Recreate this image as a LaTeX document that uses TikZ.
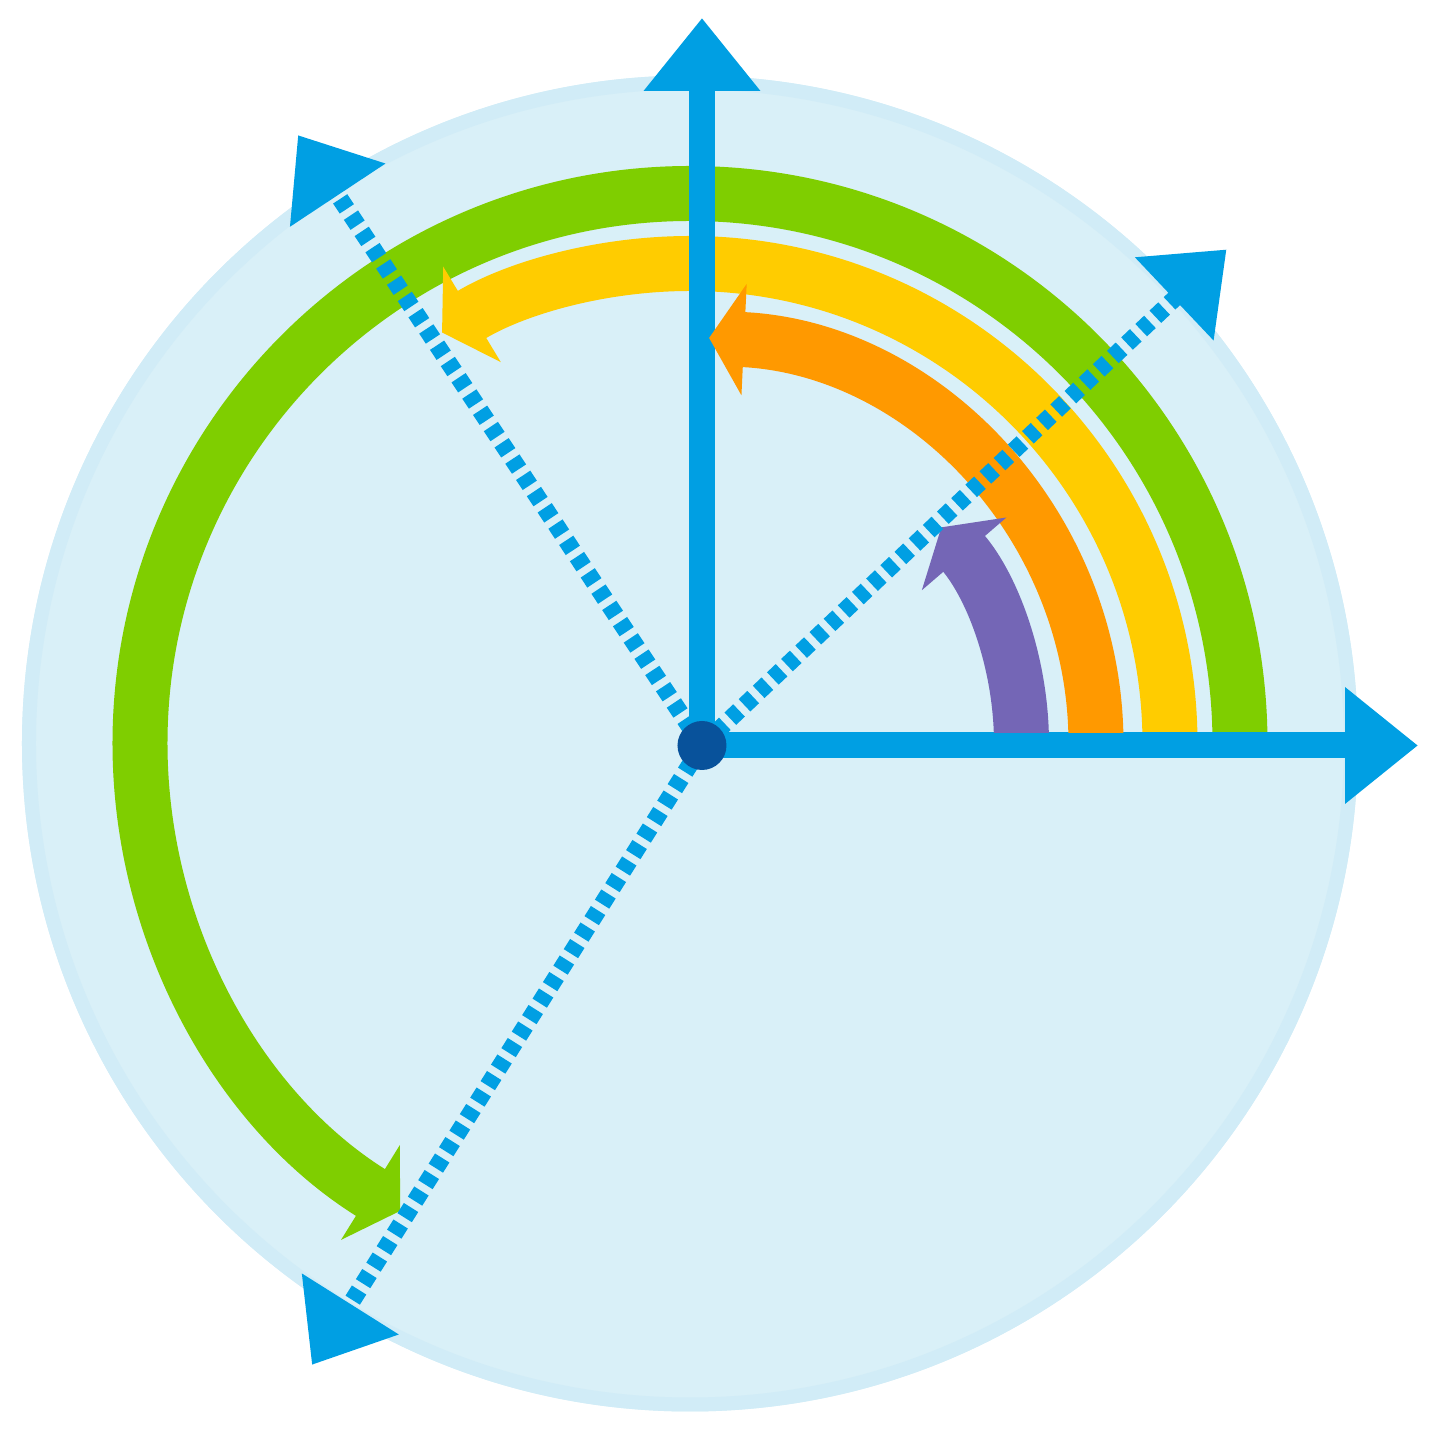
\documentclass[tikz,border=0pt]{standalone}
\usetikzlibrary{arrows.meta}
\definecolor{discblue}{RGB}{217,240,248}
\definecolor{discring}{RGB}{209,236,247}
\definecolor{axisblue}{RGB}{0,159,227}
\definecolor{dotblue}{RGB}{8,82,155}
\definecolor{arcgreen}{RGB}{127,206,0}
\definecolor{arcyellow}{RGB}{255,204,0}
\definecolor{arcorange}{RGB}{255,153,0}
\definecolor{arcpurple}{RGB}{116,102,182}

\begin{document}
\begin{tikzpicture}[
				axis/.style={draw=axisblue, line width=2.6mm, -{Triangle[length=7.3mm,width=11.2mm]}},
				ray/.style={draw=axisblue, line width=1.7mm, dash pattern=on 1.2mm off 0.75mm, -{Triangle[length=7.2mm,width=11mm]}},
				band/.style={line width=5.5mm, -{Triangle[length=3.5mm,width=11mm]}}]
				\useasboundingbox (-7.02,-6.925) rectangle (7.38,7.455);
				\coordinate (O) at (0,0);
				\coordinate (C) at (-0.12,0.02);
				\coordinate (xtip) at (7.16,0);
				\coordinate (ytip) at (0,7.275);
				\coordinate (urtip) at (43.4:7.22);
				\coordinate (ultip) at (123.5:7.32);
				\coordinate (lltip) at (237.8:7.32);
				\fill[discblue] (C) circle[radius=6.68];
				\draw[discring, line width=1.4mm] (C) circle[radius=6.61];
				\draw[band, draw=arcgreen] ([shift={(0:5.5)}]C) arc[start angle=0, end angle=238.2, radius=5.5];
				\draw[band, draw=arcyellow] ([shift={(0:4.8)}]C) arc[start angle=0, end angle=121.1, radius=4.8];
				\draw[axis] (O) -- (xtip);
				\draw[axis] (O) -- (ytip);
				\begin{scope}
					\clip (-7.02,0.13) rectangle (7.38,7.455);
					\draw[band, draw=arcorange] ([shift={(0:4.06)}]C) arc[start angle=0, end angle=87.3, radius=4.06];
					\draw[band, draw=arcpurple] ([shift={(0:3.315)}]C) arc[start angle=0, end angle=40.7, radius=3.315];
				\end{scope}
				\draw[ray] (O) -- (urtip);
				\draw[ray] (O) -- (ultip);
				\draw[ray] (O) -- (lltip);
				\node[circle, fill=dotblue, inner sep=0pt, minimum size=4.9mm] (origin) at (O) {};
\end{tikzpicture}
\end{document}
